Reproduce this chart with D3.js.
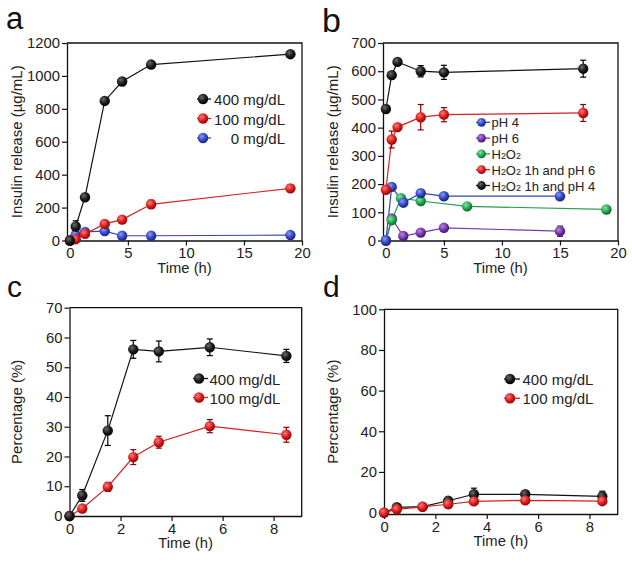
<!DOCTYPE html>
<html><head><meta charset="utf-8">
<script src="https://cdn.jsdelivr.net/npm/d3@7"></script>
<style>
body{margin:0;background:#fff;}
svg{display:block;font-family:"Liberation Sans",Arial,sans-serif;}
</style></head>
<body><svg id="chart" width="632" height="562"></svg>
<script>
// ---------- Panel a ----------
const aTimes = [0, 0.5, 1.3, 3, 4.5, 7, 19];
const a400 = [0, 85, 263, 848, 966, 1069, 1132];
const a400Err = [0, 35, 20, 15, 15, 12, 12];
const a100 = [0, 8, 40, 101, 127, 220, 317];
const a100Err = [0, 5, 8, 12, 12, 25, 20];
const a0 = [0, 35, 52, 57, 29, 29, 33];
const a0Err = [0, 5, 5, 8, 5, 5, 5];
const aYTicks = [0, 200, 400, 600, 800, 1000, 1200];
const abXTicks = [0, 5, 10, 15, 20];

// ---------- Panel b ----------
const bTimesPH4 = [0, 0.5, 1.5, 3, 5, 15];
const bPH4 = [0, 190, 134, 168, 157, 157];
const bPH4Err = [0, 10, 10, 10, 8, 8];
const bTimesPH6 = [0, 0.5, 1.5, 3, 5, 15];
const bPH6 = [0, 78, 16, 28, 45, 33];
const bPH6Err = [0, 8, 5, 5, 5, 18];
const bTimesH2O2 = [0, 0.5, 1.3, 3, 7, 19];
const bH2O2 = [0, 72, 150, 140, 121, 110];
const bH2O2Err = [0, 5, 8, 8, 5, 5];
const bTimesH2O2pH = [0, 0.5, 1, 3, 5, 17];
const bH2O2pH6 = [180, 358, 402, 437, 446, 452];
const bH2O2pH6Err = [10, 30, 10, 45, 25, 30];
const bH2O2pH4 = [466, 586, 633, 600, 596, 609];
const bH2O2pH4Err = [10, 12, 8, 20, 25, 30];
const bYTicks = [0, 100, 200, 300, 400, 500, 600, 700];

// ---------- Panel c ----------
const cdTimes = [0, 0.5, 1.5, 2.5, 3.5, 5.5, 8.5];
const c400 = [0, 6.9, 28.7, 56, 55.3, 56.7, 53.8];
const c400Err = [0, 2, 5, 3, 3.5, 2.8, 2.2];
const c100 = [0, 2.5, 9.8, 19.8, 24.8, 30.2, 27.3];
const c100Err = [0, 1, 1.5, 2.5, 2, 2.2, 2.5];
const cYTicks = [0, 10, 20, 30, 40, 50, 60, 70];
const cdXTicks = [0, 2, 4, 6, 8];

// ---------- Panel d ----------
const d400 = [0, 2.6, 2.9, 5.8, 9, 9, 8];
const d400Err = [0, 1, 1, 1.5, 3, 1.5, 2.5];
const d100 = [0, 1.6, 2.8, 4.1, 5.5, 6, 5.6];
const d100Err = [0, 0.8, 0.8, 1, 1, 1, 1];
const dYTicks = [0, 20, 40, 60, 80, 100];

const colors = {
  black: {line: "#111", light: "#6a6a6a", mid: "#1a1a1a", dark: "#000"},
  red: {line: "#d42020", light: "#ff7a7a", mid: "#d81c1c", dark: "#8a0000"},
  blue: {line: "#3444b4", light: "#8a9cff", mid: "#3344c0", dark: "#18206e"},
  purple: {line: "#7a36a8", light: "#b886e0", mid: "#7434a8", dark: "#3c145e"},
  green: {line: "#22a04c", light: "#7ee8a0", mid: "#22a650", dark: "#0b5a26"}
};

const svg = d3.select("#chart");
const defs = svg.append("defs");
Object.entries(colors).forEach(([k, c]) => {
  const g = defs.append("radialGradient").attr("id", "g-" + k)
    .attr("cx", "38%").attr("cy", "35%").attr("r", "70%");
  g.append("stop").attr("offset", "0%").attr("stop-color", c.light);
  g.append("stop").attr("offset", "55%").attr("stop-color", c.mid);
  g.append("stop").attr("offset", "100%").attr("stop-color", c.dark);
});

const textColor = "#222";
const R = 5.2;

function zip(xs, ys, es) { return xs.map((x, i) => ({x, y: ys[i], e: es[i]})); }

function panel(cfg) {
  const x = d3.scaleLinear().domain(cfg.xDomain).range(cfg.xRange);
  const y = d3.scaleLinear().domain(cfg.yDomain).range(cfg.yRange);
  const g = svg.append("g");
  g.append("path")
    .attr("d", `M${cfg.xRange[0]},${cfg.yRange[1]}H${cfg.xRange[1]}V${cfg.yRange[0]}`)
    .attr("fill", "none").attr("stroke", "#111").attr("stroke-width", 1.3);
  const xa = g.append("g").attr("transform", `translate(0,${cfg.yRange[0]})`)
    .call(d3.axisBottom(x).tickValues(cfg.xTicks).tickFormat(d3.format("d"))
      .tickSize(5).tickSizeOuter(0).tickPadding(2));
  const ya = g.append("g").attr("transform", `translate(${cfg.xRange[0]},0)`)
    .call(d3.axisLeft(y).tickValues(cfg.yTicks).tickFormat(d3.format("d"))
      .tickSize(5).tickSizeOuter(0).tickPadding(2));
  [xa, ya].forEach(a => {
    a.select(".domain").attr("stroke", "#111").attr("stroke-width", 1.3);
    a.selectAll(".tick line").attr("stroke", "#111").attr("stroke-width", 1.2);
    a.selectAll(".tick text").attr("fill", textColor).style("font-size", "14.8px")
      .style("font-family", "'Liberation Sans', Arial, sans-serif");
  });
  const xm = (cfg.xRange[0] + cfg.xRange[1]) / 2;
  g.append("text").attr("x", xm).attr("y", cfg.yRange[0] + 32).attr("text-anchor", "middle")
    .attr("fill", textColor).style("font-size", "14.8px").text("Time (h)");
  const ym = (cfg.yRange[0] + cfg.yRange[1]) / 2;
  g.append("text").attr("transform", `translate(${cfg.yTitleX},${ym}) rotate(-90)`)
    .attr("text-anchor", "middle").attr("dominant-baseline", "central")
    .attr("fill", textColor).style("font-size", "15px").text(cfg.yTitle);
  g.append("text").attr("x", cfg.letterPos[0]).attr("y", cfg.letterPos[1])
    .attr("fill", "#111").style("font-size", cfg.letterSize + "px").text(cfg.letter);

  const line = d3.line().x(d => x(d.x)).y(d => y(d.y));
  cfg.series.forEach(s => {
    const c = colors[s.color];
    const sg = g.append("g");
    sg.append("path").attr("d", line(s.data)).attr("fill", "none")
      .attr("stroke", c.line).attr("stroke-width", 1.2);
    const eb = sg.selectAll(".eb").data(s.data.filter(d => d.e > 0)).enter().append("g");
    eb.append("line").attr("x1", d => x(d.x)).attr("x2", d => x(d.x))
      .attr("y1", d => y(d.y - d.e)).attr("y2", d => y(d.y + d.e))
      .attr("stroke", c.dark).attr("stroke-width", 1.2);
    [1, -1].forEach(sgn => {
      eb.append("line").attr("x1", d => x(d.x) - 3).attr("x2", d => x(d.x) + 3)
        .attr("y1", d => y(d.y + sgn * d.e)).attr("y2", d => y(d.y + sgn * d.e))
        .attr("stroke", c.dark).attr("stroke-width", 1.2);
    });
  });
  cfg.series.forEach(s => {
    g.append("g").selectAll("circle").data(s.data).enter().append("circle")
      .attr("cx", d => x(d.x)).attr("cy", d => y(d.y)).attr("r", R)
      .attr("fill", `url(#g-${s.color})`);
  });
  const L = cfg.legend;
  L.items.forEach((it, i) => {
    const yy = L.y0 + i * L.dy;
    const c = colors[it.color];
    g.append("line").attr("x1", L.lineX[0]).attr("x2", L.lineX[1]).attr("y1", yy).attr("y2", yy)
      .attr("stroke", c.line).attr("stroke-width", 1.3);
    g.append("circle").attr("cx", L.markX).attr("cy", yy).attr("r", L.r || R)
      .attr("fill", `url(#g-${it.color})`);
    const t = g.append("text").attr("x", L.textX).attr("y", yy)
      .attr("text-anchor", L.anchor).attr("dominant-baseline", "central")
      .attr("fill", textColor).style("font-size", L.size + "px");
    it.label.forEach(part => {
      const ts = t.append("tspan").text(part.t);
      if (part.sub) ts.style("font-size", (L.size * 0.68) + "px").attr("dy", 2);
      if (part.up) ts.attr("dy", -2);
    });
  });
}

const plain = s => [{t: s}];
const h2o2 = rest => [{t: "H"}, {t: "2", sub: true}, {t: "O", up: true}, {t: "2", sub: true}, {t: rest, up: true}];

panel({
  letter: "a", letterPos: [6, 29], letterSize: 31,
  xDomain: [-0.25, 20], xRange: [67, 302], yDomain: [0, 1200], yRange: [240.5, 43],
  xTicks: abXTicks, yTicks: aYTicks, yTitle: "Insulin release (µg/mL)", yTitleX: 16,
  series: [
    {color: "blue", data: zip(aTimes, a0, a0Err)},
    {color: "red", data: zip(aTimes, a100, a100Err)},
    {color: "black", data: zip(aTimes, a400, a400Err)}
  ],
  legend: {y0: 99, dy: 19.5, lineX: [197, 211], markX: 203, textX: 285, anchor: "end", size: 15,
    items: [{color: "black", label: plain("400 mg/dL")}, {color: "red", label: plain("100 mg/dL")},
            {color: "blue", label: plain("0 mg/dL")}]}
});

panel({
  letter: "b", letterPos: [322, 32], letterSize: 34,
  xDomain: [-0.25, 20], xRange: [383, 618], yDomain: [0, 700], yRange: [240.5, 43],
  xTicks: abXTicks, yTicks: bYTicks, yTitle: "Insulin release (µg/mL)", yTitleX: 332,
  series: [
    {color: "purple", data: zip(bTimesPH6, bPH6, bPH6Err)},
    {color: "green", data: zip(bTimesH2O2, bH2O2, bH2O2Err)},
    {color: "blue", data: zip(bTimesPH4, bPH4, bPH4Err)},
    {color: "red", data: zip(bTimesH2O2pH, bH2O2pH6, bH2O2pH6Err)},
    {color: "black", data: zip(bTimesH2O2pH, bH2O2pH4, bH2O2pH4Err)}
  ],
  legend: {y0: 122.3, dy: 15.8, lineX: [476, 490], markX: 481.5, textX: 491.5, anchor: "start", size: 13, r: 4.4,
    items: [{color: "blue", label: plain("pH 4")}, {color: "purple", label: plain("pH 6")},
            {color: "green", label: h2o2("")}, {color: "red", label: h2o2(" 1h and pH 6")},
            {color: "black", label: h2o2(" 1h and pH 4")}]}
});

panel({
  letter: "c", letterPos: [7, 297], letterSize: 30,
  xDomain: [0, 9.1], xRange: [69.5, 301.7], yDomain: [0, 70], yRange: [516, 307.7],
  xTicks: cdXTicks, yTicks: cYTicks, yTitle: "Percentage (%)", yTitleX: 16,
  series: [
    {color: "red", data: zip(cdTimes, c100, c100Err)},
    {color: "black", data: zip(cdTimes, c400, c400Err)}
  ],
  legend: {y0: 378.5, dy: 19, lineX: [193, 208], markX: 199, textX: 209.5, anchor: "start", size: 15,
    items: [{color: "black", label: plain("400 mg/dL")}, {color: "red", label: plain("100 mg/dL")}]}
});

panel({
  letter: "d", letterPos: [323, 297], letterSize: 30,
  xDomain: [0, 9.1], xRange: [384, 617.7], yDomain: [-0.7, 100], yRange: [514, 309.3],
  xTicks: cdXTicks, yTicks: dYTicks, yTitle: "Percentage (%)", yTitleX: 332,
  series: [
    {color: "black", data: zip(cdTimes, d400, d400Err)},
    {color: "red", data: zip(cdTimes, d100, d100Err)}
  ],
  legend: {y0: 379, dy: 19.3, lineX: [504, 520], markX: 510, textX: 522.5, anchor: "start", size: 15,
    items: [{color: "black", label: plain("400 mg/dL")}, {color: "red", label: plain("100 mg/dL")}]}
});
</script></body></html>
